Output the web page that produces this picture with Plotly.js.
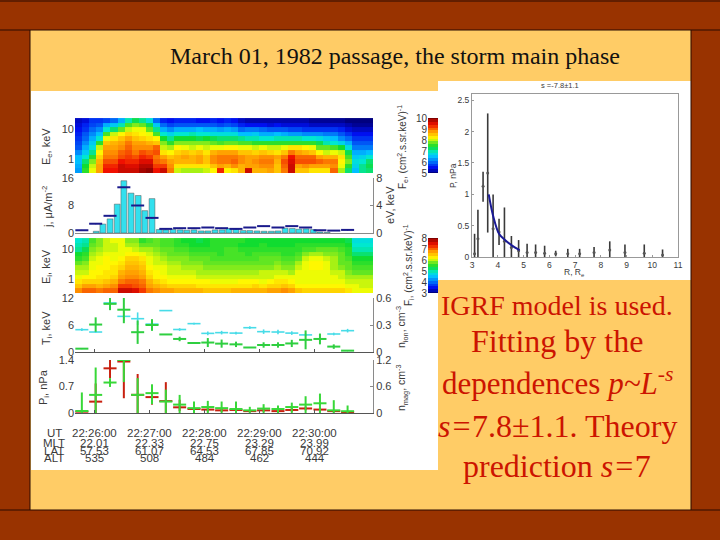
<!DOCTYPE html>
<html><head><meta charset="utf-8">
<script src="https://cdn.plot.ly/plotly-3.0.1.min.js"></script>
<style>html,body{margin:0;padding:0;background:#993300}#g{width:720px;height:540px}</style></head>
<body><div id="g"></div>
<script>
// --- values ---
const logE = [1.29,1.14,0.99,0.83,0.68,0.53,0.37,0.22,0.07,-0.09,-0.24,-0.39];
// electron spectrogram, one list per time bin, top energy first
const fluxE = [
[5.3,5.4,5.5,5.6,5.7,5.8,5.9,6.2,6.5,6.5,6.4,6.3],
[5.4,5.6,5.7,5.9,6.0,6.2,6.4,6.6,6.9,7.2,7.4,7.5],
[5.7,5.8,6.0,6.2,6.4,6.6,6.8,7.1,7.5,7.8,8.0,8.1],
[5.7,5.9,6.2,6.5,6.9,7.5,8.0,8.2,8.4,8.6,8.7,8.7],
[5.8,6.4,6.9,7.6,8.1,8.5,8.7,8.8,8.9,9.1,9.3,9.4],
[6.0,6.6,7.2,8.0,8.3,8.6,8.7,8.8,8.9,9.1,9.3,9.4],
[6.4,7.0,7.7,8.2,8.5,8.7,8.8,9.0,9.1,9.4,9.6,9.6],
[7.0,7.6,8.0,8.4,8.7,8.9,9.0,9.1,9.2,9.3,9.5,9.6],
[7.3,7.8,8.1,8.3,8.5,8.7,8.8,8.9,9.1,9.3,9.5,9.6],
[7.1,7.7,8.1,8.2,8.4,8.7,8.8,9.1,9.3,9.5,9.7,9.8],
[6.8,7.3,7.7,8.1,8.3,8.6,8.8,9.0,9.2,9.5,9.7,9.9],
[6.0,6.6,7.1,7.6,8.2,8.5,9.0,9.1,8.9,9.0,9.2,9.4],
[5.6,6.0,6.4,6.9,7.4,7.8,8.0,8.3,8.7,8.9,9.2,9.6],
[5.5,5.8,6.2,6.7,7.1,7.5,7.9,8.2,8.5,8.7,8.8,8.9],
[5.6,5.9,6.4,6.9,7.4,7.8,8.2,8.4,8.6,8.6,8.3,8.0],
[5.6,5.9,6.4,6.9,7.4,7.8,8.1,8.5,8.7,8.6,8.3,7.9],
[5.6,5.9,6.4,7.0,7.4,7.8,8.0,8.4,8.6,8.6,8.3,7.9],
[5.5,5.9,6.5,6.9,7.3,7.8,8.1,8.5,8.7,8.7,8.3,7.9],
[5.5,5.9,6.4,6.9,7.4,7.8,8.0,8.3,8.5,8.5,8.3,8.0],
[5.6,5.9,6.4,6.8,7.3,7.7,8.1,8.6,8.8,8.8,8.5,8.2],
[5.5,5.8,6.3,6.8,7.2,7.6,8.1,8.7,8.9,8.9,8.7,9.3],
[5.6,5.9,6.4,6.8,7.2,7.7,8.2,8.7,8.9,8.9,8.6,8.2],
[5.5,5.8,6.3,6.8,7.2,7.7,8.2,8.7,8.9,9.0,8.8,8.3],
[5.3,5.6,6.0,6.5,7.1,7.6,8.1,8.5,8.8,8.8,8.6,8.6],
[5.2,5.5,6.1,6.5,7.0,7.6,8.1,8.5,8.7,8.7,8.7,9.6],
[5.2,5.5,6.1,6.6,7.0,7.5,8.0,8.4,8.7,8.8,8.7,8.6],
[5.2,5.5,6.0,6.4,6.9,7.5,8.1,8.5,8.8,8.9,8.8,8.6],
[5.2,5.4,5.9,6.4,6.9,7.5,8.0,8.4,8.8,8.9,8.8,8.7],
[5.2,5.5,5.9,6.5,7.0,7.5,8.0,8.3,8.7,8.6,8.5,8.5],
[5.2,5.4,5.9,6.4,7.0,7.5,8.1,8.5,8.9,9.1,9.0,8.9],
[5.2,5.4,5.8,6.3,7.0,7.5,8.3,8.9,9.4,9.5,9.6,9.6],
[5.2,5.4,5.8,6.3,7.0,7.5,8.3,8.7,9.0,9.1,8.7,8.5],
[5.2,5.4,5.7,6.2,6.9,7.5,8.2,8.6,9.0,9.1,8.8,8.5],
[5.1,5.3,5.7,6.2,6.9,7.5,8.1,8.5,9.0,9.1,8.7,8.3],
[5.1,5.3,5.7,6.2,6.8,7.3,7.7,8.2,8.7,9.0,8.7,8.3],
[5.1,5.3,5.7,6.1,6.6,7.0,7.7,8.0,8.6,8.9,8.7,8.3],
[5.1,5.3,5.7,6.1,6.5,6.9,7.6,8.1,8.6,8.9,8.8,9.0],
[5.1,5.3,5.6,5.9,6.2,6.7,7.4,8.0,8.3,8.2,8.1,7.9],
[5.0,5.2,5.4,5.7,6.0,6.4,6.8,7.3,7.6,7.8,7.5,7.2],
[5.0,5.1,5.3,5.5,5.7,5.9,6.1,6.4,6.6,6.8,6.7,6.5],
[5.0,5.1,5.3,5.5,5.7,5.9,6.1,6.4,6.7,6.9,7.1,7.1],
[4.9,5.1,5.3,5.5,5.7,5.9,6.1,6.5,6.9,7.2,7.3,7.2]];
// ion spectrogram, one list per time bin, top energy first
const fluxI = [
[4.9,5.0,5.1,5.4,5.5,5.7,5.9,6.0,6.1,6.3,6.5,6.8],
[5.0,5.1,5.3,5.5,5.6,5.8,5.9,6.0,6.2,6.4,6.7,7.0],
[5.6,5.7,5.8,5.9,6.0,6.1,6.1,6.2,6.2,6.4,6.7,7.0],
[5.8,5.8,5.9,6.0,6.1,6.1,6.2,6.2,6.3,6.4,6.6,6.9],
[6.0,6.0,6.0,6.1,6.2,6.2,6.2,6.3,6.3,6.5,6.7,7.0],
[6.1,6.0,6.0,6.1,6.1,6.2,6.3,6.3,6.4,6.6,6.8,7.0],
[6.1,6.1,6.1,6.1,6.2,6.3,6.4,6.6,6.7,6.9,7.2,7.6],
[5.8,5.9,6.1,6.2,6.4,6.5,6.6,6.7,6.8,7.0,7.2,7.6],
[5.8,5.9,6.0,6.2,6.4,6.5,6.6,6.7,6.8,7.0,7.1,7.5],
[5.5,5.7,5.9,6.1,6.3,6.4,6.5,6.6,6.7,6.9,7.0,7.2],
[5.6,5.7,5.9,6.0,6.1,6.1,6.2,6.3,6.4,6.6,6.7,6.9],
[5.7,5.7,5.8,5.9,6.0,6.0,6.1,6.2,6.2,6.4,6.6,6.8],
[5.6,5.6,5.7,5.8,5.9,6.0,6.1,6.1,6.2,6.3,6.5,6.7],
[5.6,5.6,5.7,5.7,5.8,5.9,6.0,6.0,6.1,6.2,6.4,6.7],
[5.5,5.5,5.6,5.7,5.8,5.9,6.0,6.0,6.1,6.2,6.4,6.6],
[5.4,5.5,5.6,5.7,5.8,5.8,5.9,6.0,6.1,6.2,6.4,6.6],
[5.4,5.4,5.5,5.6,5.7,5.8,5.9,6.0,6.1,6.2,6.4,6.6],
[5.3,5.4,5.5,5.6,5.7,5.8,5.9,5.9,6.0,6.2,6.3,6.6],
[5.4,5.4,5.5,5.6,5.7,5.7,5.8,5.9,6.0,6.2,6.3,6.5],
[5.5,5.5,5.5,5.6,5.6,5.7,5.8,5.9,6.0,6.1,6.3,6.5],
[5.5,5.5,5.5,5.5,5.6,5.7,5.8,5.9,6.0,6.1,6.3,6.5],
[5.5,5.5,5.6,5.6,5.6,5.7,5.8,5.9,6.0,6.1,6.3,6.5],
[5.5,5.5,5.6,5.6,5.6,5.7,5.8,5.9,6.0,6.1,6.3,6.6],
[5.5,5.4,5.5,5.6,5.6,5.7,5.8,5.9,6.0,6.2,6.3,6.6],
[5.4,5.4,5.5,5.5,5.6,5.7,5.8,5.9,6.0,6.2,6.3,6.6],
[5.4,5.4,5.5,5.6,5.6,5.7,5.8,5.9,6.0,6.2,6.4,6.6],
[5.4,5.5,5.5,5.6,5.7,5.7,5.8,6.0,6.0,6.1,6.3,6.6],
[5.4,5.4,5.5,5.6,5.7,5.7,5.8,6.0,6.0,6.2,6.4,6.7],
[5.4,5.4,5.5,5.6,5.7,5.8,5.9,6.0,6.1,6.3,6.4,6.7],
[5.4,5.4,5.5,5.5,5.6,5.7,5.8,6.0,6.1,6.3,6.5,6.8],
[5.4,5.4,5.5,5.5,5.6,5.7,5.8,5.9,6.1,6.2,6.4,6.7],
[5.4,5.5,5.5,5.6,5.7,5.9,6.0,6.1,6.1,6.1,6.2,6.5],
[5.4,5.5,5.6,5.8,6.0,6.1,6.1,6.1,6.1,6.1,6.2,6.4],
[5.4,5.5,5.6,5.9,6.1,6.2,6.2,6.1,6.1,6.1,6.2,6.4],
[5.4,5.5,5.7,5.9,6.1,6.2,6.2,6.1,6.1,6.1,6.2,6.4],
[5.4,5.5,5.7,5.8,6.0,6.1,6.1,6.1,6.1,6.1,6.2,6.4],
[5.4,5.5,5.7,5.8,5.9,5.9,5.9,6.0,6.1,6.1,6.2,6.4],
[5.4,5.5,5.6,5.7,5.7,5.7,5.8,6.0,6.0,6.1,6.2,6.4],
[5.3,5.4,5.5,5.5,5.6,5.7,5.7,5.8,5.9,6.0,6.1,6.3],
[4.8,4.9,5.0,5.2,5.4,5.5,5.6,5.7,5.9,6.0,6.1,6.1],
[4.8,4.9,5.0,5.2,5.4,5.5,5.6,5.7,5.9,6.0,6.0,6.1],
[4.8,4.9,5.0,5.2,5.4,5.5,5.6,5.7,5.9,6.0,6.0,6.1]];
const scaleE = [5,5.25,5.5,5.75,6,6.25,6.5,6.75,7,7.25,7.5,7.75,8,8.25,8.5,8.75,9,9.25,9.5,9.75,10];
const scaleI = [3,3.25,3.5,3.75,4,4.25,4.5,4.75,5,5.25,5.5,5.75,6,6.25,6.5,6.75,7,7.25,7.5,7.75,8];

const tj = [.04,.16,.29,.42,.54,.67,.80,.92,1.05,1.18,1.30,1.43,1.56,1.68,1.81,1.94,2.06,2.19,2.32,2.44,2.57,2.70,2.82,2.95,3.08,3.21,3.33,3.46,3.59,3.71,3.84,3.97,4.09,4.22];
const current = [.5,2.6,4.1,8.4,15.2,11.6,10.9,6.5,10,1,.9,1,.9,.8,.9,.6,.6,.9,.9,1.3,1.2,.7,.7,.6,.5,.5,.6,1.4,1.3,1.1,1.2,1.0,.3,.2];
const t = [-0.22,0.03,0.29,0.54,0.79,1.05,1.30,1.55,1.81,2.06,2.31,2.57,2.82,3.07,3.33,3.58,3.83,4.09,4.34,4.59];
const meanEnergy = [.4,1.35,2.5,6.65,4,2.2,.6,.7,.7,.8,.7,.6,.8,1,.8,1,.8,.4,.35,.45];
const ionTemp = [4.96,4.44,10.9,7.92,7.4,6.2,9.2,5,6.3,4.14,4.3,4.2,5.4,4.52,4.44,4.2,3.8,null,4,4.74];
const ionTempErr = [.3,.2,.4,1,1.4,.3,.1,.3,.2,.4,.4,.3,.3,.5,.5,.4,.3,0,.3,.4];
const ionDens = [.037,.305,.535,.47,.22,.30,.195,.145,.10,.105,.093,.085,.05,.078,.078,.095,.135,.145,.06,.015];
const ionDensErr = [0,.08,.07,.15,.13,.065,0,.025,.01,.05,.045,.03,.005,.03,.03,.04,.105,.06,.025,0];
const pressure = [.035,.3,1.18,1.36,.48,.42,.315,.15,.105,.09,.07,.08,.05,.07,.05,.08,.12,.09,.05,.02];
const pressureUp = [0,.48,.22,.09,.55,.32,.5,.2,.05,.05,.04,.04,.03,.04,.03,.05,.05,.05,.03,.01];
const pressureDown = [.035,.3,.26,.97,.48,.2,.315,.1,.05,.05,.04,.05,.03,.04,.03,.05,.05,.05,.03,.01];
const magDens = [.045,.41,.69,1.2,.41,.45,.26,.19,.11,.135,.11,.09,.06,.1,.09,.135,.19,.22,.06,.04];
const magDensUp = [.42,.62,.1,.04,.38,.2,.27,.22,.15,.14,.15,.17,.08,.1,.08,.1,.19,.22,.23,.13];
const magDensDown = [.045,.41,.1,.5,.41,.25,.26,.19,.11,.135,.11,.09,.06,.1,.09,.135,.19,.22,.06,.04];

const utTicks = [0,1,2,3,4];
const utLabels = ["22:26:00","22:27:00","22:28:00","22:29:00","22:30:00"];
const mltLabels = ["22.01","22.33","22.75","23.29","23.99"];
const latLabels = ["57.53","61.07","64.53","67.85","70.92"];
const altLabels = ["535","508","484","462","444"];
const rowNames = ["UT","MLT","LAT","ALT"];

const radius = [3.10,3.23,3.43,3.61,3.82,4.05,4.26,4.53,4.81,5.14,5.47,5.82,6.25,6.72,7.18,7.74,8.35,8.94,9.69,10.4];
const pMid = [.05,.29,1.13,1.34,.45,.4,.25,.15,.1,.07,.07,.06,.05,.05,.05,.07,.11,.07,.06,.03];
const pHigh = [.37,.755,1.36,2.29,.995,.61,.79,.335,.27,.21,.2,.18,.1,.13,.13,.16,.25,.2,.2,.12];
const pLow = [0,0,.88,.39,0,.19,0,0,0,0,0,0,.01,0,0,0,0,0,0,0];
const fitR = [3.65,3.83,4.05,4.26,4.53,4.85];
const fitP = [1.0,.64,.37,.28,.19,.11];

// --- layout helpers (pixels of the 720x540 picture) ---
const W=720,H=540;
const xd=(a,b)=>[a/W,b/W], yd=(top,bot)=>[1-bot/H,1-top/H];
const tMin=-0.344,tMax=5.05,dt=(tMax-tMin)/42;
const GRAY='#8a8a8a',TXT='#3a3a3a';
const tf={family:'Liberation Sans',size:11,color:TXT};
const L=75,R=373;
const rainbow=[[0,'#000080'],[.1,'#0010f0'],[.3,'#00c0ff'],[.38,'#00e8d0'],[.48,'#10dc30'],[.55,'#70e820'],[.63,'#ffff00'],[.75,'#ff9900'],[.88,'#f01000'],[1,'#800000']];
const blank={showgrid:false,zeroline:false,showline:false,ticks:'',showticklabels:false};
const px=(d,r,extra)=>Object.assign({},blank,{domain:d,range:r},extra||{});
function leftY(top,bot,r,vals,x){return Object.assign({},blank,{domain:yd(top,bot),range:r,tickmode:'array',tickvals:vals,ticktext:vals.map(String),showticklabels:true,tickfont:tf,ticklen:0},x||{});}
function rightY(over,anchor,r,vals,txt){return {overlaying:over,side:'right',anchor:anchor,range:r,showgrid:false,zeroline:false,showline:true,linecolor:GRAY,linewidth:1,ticks:'inside',ticklen:3,tickcolor:GRAY,tickmode:'array',tickvals:vals,ticktext:txt,tickfont:tf};}
const axisLine=(anchor,ticked)=>({domain:xd(L,R),range:[tMin,tMax],anchor:anchor,showgrid:false,zeroline:false,showline:true,linecolor:ticked?'#555':GRAY,linewidth:1,ticks:ticked?'inside':'',ticklen:3,tickcolor:'#555',tickmode:'array',tickvals:utTicks,showticklabels:false});

const hm=(z,xa,ya,zmin,zmax)=>({type:'heatmap',z:z,transpose:true,y:logE,x0:tMin+dt/2,dx:dt,xaxis:xa,yaxis:ya,colorscale:rainbow,zmin:zmin,zmax:zmax,showscale:false,hoverinfo:'skip'});
const bar=(s,xa,ya,zmin,zmax)=>({type:'heatmap',z:s.map(v=>[v]),x:[0],y:s,xaxis:xa,yaxis:ya,colorscale:rainbow,zmin:zmin,zmax:zmax,showscale:false,hoverinfo:'skip'});
const HALF=0.118;
function cross(y,up,down,xa,ya,color,thick){return {type:'scatter',mode:'markers',x:t,y:y,xaxis:xa,yaxis:ya,marker:{size:1,color:color},
 error_x:{type:'constant',value:HALF,color:color,thickness:thick,width:0},
 error_y:{type:'data',symmetric:false,array:up,arrayminus:down,color:color,thickness:thick,width:0},hoverinfo:'skip',showlegend:false};}

const data=[
 hm(fluxE,'x','y',5,10),
 {type:'bar',x:tj,y:current,xaxis:'x2',yaxis:'y2',width:.105,marker:{color:'#33e0ee',line:{color:'#555',width:.5}},hoverinfo:'skip'},
 {type:'scatter',mode:'markers',x:t,y:meanEnergy,xaxis:'x2',yaxis:'y7',marker:{size:1,color:'#1a1a8c'},error_x:{type:'constant',value:HALF,color:'#1a1a8c',thickness:2,width:0},hoverinfo:'skip'},
 hm(fluxI,'x3','y3',3,8),
 cross(ionTemp,ionTempErr,ionTempErr,'x4','y4','#48dce8',1.6),
 cross(ionDens,ionDensErr,ionDensErr,'x4','y8','#2fcf40',2),
 cross(pressure,pressureUp,pressureDown,'x5','y5','#c8200f',2),
 cross(magDens,magDensUp,magDensDown,'x5','y9','#38d838',2),
 bar(scaleE,'x6','y6',5,10),
 bar(scaleI,'x7','y10',3,8),
 {type:'scatter',mode:'markers',x:radius,y:pMid,xaxis:'x8',yaxis:'y11',marker:{size:3,color:'#555'},
  error_y:{type:'data',symmetric:false,array:pHigh.map((v,i)=>v-pMid[i]),arrayminus:pMid.map((v,i)=>v-pLow[i]),color:'#3a3a3a',thickness:1.6,width:0},hoverinfo:'skip'},
 {type:'scatter',mode:'lines',x:fitR,y:fitP,xaxis:'x8',yaxis:'y11',line:{color:'#1a1a96',width:2,shape:'spline'},hoverinfo:'skip'}
];

const sh=(x0,y0,x1,y1,fill)=>({type:'rect',xref:'paper',yref:'paper',x0:x0/W,x1:x1/W,y0:1-y0/H,y1:1-y1/H,fillcolor:fill,line:{width:0},layer:'below'});
const ln=(x0,y0,x1,y1)=>({type:'line',xref:'paper',yref:'paper',x0:x0/W,x1:x1/W,y0:1-y0/H,y1:1-y1/H,line:{color:'#2a0a00',width:1},layer:'below'});
const shapes=[sh(30,30,691,510,'#FFCC66'),sh(31,91,438,470,'#ffffff'),sh(438,81,691,280,'#ffffff'),
 ln(0,1,720,1),ln(0,30,720,30),ln(0,510,720,510),ln(30,30,30,510),ln(691,30,691,510)];

const ann=(text,x,y,size,o)=>Object.assign({text:text,x:x/W,y:1-y/H,xref:'paper',yref:'paper',showarrow:false,xanchor:'center',yanchor:'middle',font:{family:'Liberation Sans',size:size,color:TXT}},o||{});
const rot=(text,x,y,size)=>ann(text,x,y,size,{textangle:-90});
const SERIF='Liberation Serif',RED='#CC1400';
const ser=(text,y,size)=>ann(text,557,y,size,{font:{family:SERIF,size:size,color:RED}});
const annotations=[
 ann('March 01, 1982 passage, the storm main phase',394.5,56,24,{font:{family:SERIF,size:24,color:'#111'}}),
 ser('IGRF model is used.',305,28),
 ser('Fitting by the',341,32),
 ser('dependences <i>p~L</i><sup>-<i>s</i></sup>',381,31),
 ser('<i>s=</i>7.8±1.1. Theory',426,32),
 ser('prediction <i>s=</i>7',466,32),
 ann('s =-7.8±1.1',560,86,7.5),
 rot('E<sub>e</sub>, keV',47,147,11),
 rot('j, μA/m<sup>-2</sup>',47,207,11),
 rot('E<sub>i</sub>, keV',47,267,11),
 rot('T<sub>i</sub>, keV',47,328,11),
 rot('P<sub>i</sub>, nPa',44,387,11),
 rot('eV, keV',390,205,11),
 rot('n<sub>ion</sub>, cm<sup>-3</sup>',402,327,10.5),
 rot('n<sub>mag</sub>, cm<sup>-3</sup>',402,388,10.5),
 rot('F<sub>e</sub>, (cm<sup>2</sup>.s.sr.keV)<sup>-1</sup>',403,147,10),
 rot('F<sub>i</sub>, (cm<sup>2</sup>.s.sr.keV)<sup>-1</sup>',408,265,10),
 ann('R, R<sub>e</sub>',574,272,8.5),
 rot('P, nPa',453,176,8.5)
];
const rowY=[433,443,451,458];
[utLabels,mltLabels,latLabels,altLabels].forEach((row,r)=>{
  annotations.push(ann(rowNames[r],54,rowY[r],11.5));
  row.forEach((s,i)=>annotations.push({text:s,x:utTicks[i],y:1-rowY[r]/H,xref:'x5',yref:'paper',showarrow:false,xanchor:'center',yanchor:'middle',font:{family:'Liberation Sans',size:11.5,color:TXT}}));
});
const cbf={family:'Liberation Sans',size:10,color:TXT};

const layout={width:W,height:H,margin:{l:0,r:0,t:0,b:0},paper_bgcolor:'#993300',plot_bgcolor:'rgba(0,0,0,0)',showlegend:false,barmode:'overlay',
 shapes:shapes,annotations:annotations,
 xaxis:Object.assign(px(xd(L,R),[tMin,tMax]),{anchor:'y'}),
 yaxis:leftY(118,173,[-0.467,1.367],[0,1],{ticktext:['1','10'],anchor:'x'}),
 xaxis2:axisLine('y2',false),
 yaxis2:leftY(178,233,[0,16],[0,8,16],{anchor:'x2'}),
 yaxis7:rightY('y2','x2',[0,8],[0,4,8],['0','4','8']),
 xaxis3:Object.assign(px(xd(L,R),[tMin,tMax]),{anchor:'y3'}),
 yaxis3:leftY(238,293,[-0.467,1.367],[0,1],{ticktext:['1','10'],anchor:'x3'}),
 xaxis4:axisLine('y4',true),
 yaxis4:leftY(298,352,[0,12],[0,6,12],{anchor:'x4'}),
 yaxis8:rightY('y4','x4',[0,.6],[0,.3,.6],['0','0.3','0.6']),
 xaxis5:axisLine('y5',true),
 yaxis5:leftY(360,413,[0,1.4],[0,.7,1.4],{anchor:'x5'}),
 yaxis9:rightY('y5','x5',[0,1.2],[0,.6,1.2],['0','0.6','1.2']),
 xaxis6:px(xd(428,438),[-.5,.5],{anchor:'y6'}),
 yaxis6:leftY(118,173,[5,10],[5,6,7,8,9,10],{anchor:'x6',tickfont:cbf}),
 xaxis7:px(xd(428,438),[-.5,.5],{anchor:'y10'}),
 yaxis10:leftY(238,293,[3,8],[3,4,5,6,7,8],{anchor:'x7',tickfont:cbf}),
 xaxis8:{domain:xd(472,678),range:[3,11],anchor:'y11',showgrid:false,zeroline:false,showline:true,mirror:true,linecolor:'#999',linewidth:1,ticks:'inside',ticklen:2,tickcolor:'#999',dtick:1,tickfont:{family:'Liberation Sans',size:8.5,color:TXT}},
 yaxis11:{domain:yd(94,257),range:[0,2.6],anchor:'x8',showgrid:false,zeroline:false,showline:true,mirror:true,linecolor:'#999',linewidth:1,ticks:'inside',ticklen:2,tickcolor:'#999',tickmode:'array',tickvals:[0,.5,1,1.5,2,2.5],ticktext:['0','0.5','1','1.5','2','2.5'],tickfont:{family:'Liberation Sans',size:8.5,color:TXT}}
};
Plotly.newPlot('g',data,layout,{displayModeBar:false,staticPlot:true});
</script></body></html>
